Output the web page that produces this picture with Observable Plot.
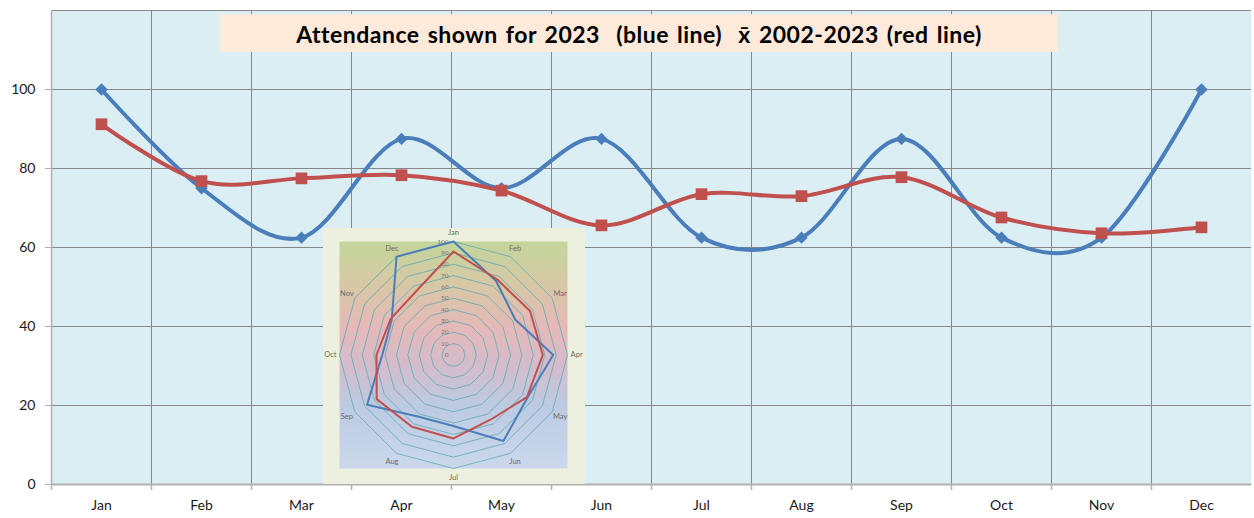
<!DOCTYPE html>
<html>
<head>
<meta charset="utf-8">
<script src="https://cdn.jsdelivr.net/npm/d3@7"></script>
<script src="https://cdn.jsdelivr.net/npm/@observablehq/plot@0.6"></script>
<style>
  body { margin: 0; background: #ffffff; }
  #wrap { position: relative; width: 1254px; height: 518px; font-family: Lato, "Open Sans", sans-serif; }
  #title {
    position: absolute; left: 220px; top: 14px; width: 838px; height: 38px;
    background: #fdeada; display: flex; align-items: center; justify-content: center;
    font-family: Lato, "Open Sans", sans-serif; font-weight: bold; font-size: 23px; color: #000;
    letter-spacing: 0.5px; word-spacing: 2px; white-space: pre; padding-top: 2px; box-sizing: border-box;
  }
  #inset { position: absolute; left: 323px; top: 228px; width: 262px; height: 256px; }
</style>
</head>
<body>
<div id="wrap">
  <div id="chart"></div>
  <div id="title">Attendance shown for 2023  (blue line)  x̄ 2002-2023 (red line)</div>
  <div id="inset"></div>
</div>
<script>
// ---- data ----
const months = ["Jan", "Feb", "Mar", "Apr", "May", "Jun", "Jul", "Aug", "Sep", "Oct", "Nov", "Dec"];
const attendance2023 = [100, 75, 62.5, 87.5, 75, 87.5, 62.5, 62.5, 87.5, 62.5, 62.5, 100];
const average2002to2023 = [91.2, 76.8, 77.5, 78.3, 74.4, 65.6, 73.5, 73.0, 77.8, 67.6, 63.6, 65.1];
const yTicks = [0, 20, 40, 60, 80, 100];
const yGrid = [20, 40, 60, 80, 100, 120];
const radarRings = [0, 10, 20, 30, 40, 50, 60, 70, 80, 90, 100];

const blueColor = "#4a7ebb";
const redColor = "#c0504d";
const fontFamily = 'Lato, "Open Sans", sans-serif';

// ---- main chart ----
const rows = months.map((m, i) => ({ idx: i + 1, month: m, blue: attendance2023[i], red: average2002to2023[i] }));
const centers = rows.map(d => d.idx);
const boundaries = d3.range(0, months.length + 1).map(k => k + 0.5);

const main = Plot.plot({
  width: 1254,
  height: 518,
  marginLeft: 51,
  marginRight: 3,
  marginTop: 10,
  marginBottom: 34,
  style: { fontFamily, fontSize: "14px", background: "transparent", overflow: "visible" },
  x: { domain: [0.5, months.length + 0.5], label: null },
  y: { domain: [0, 120], label: null },
  marks: [
    Plot.frame({ fill: "#dbeef4", stroke: null }),
    Plot.ruleY(yGrid, { stroke: "#878787", strokeWidth: 1 }),
    Plot.ruleX(boundaries.slice(1, -1), { stroke: "#878787", strokeWidth: 1 }),
    Plot.ruleX(boundaries.slice(0, 1), { stroke: "#b0b0b0", strokeWidth: 1.5 }),
    Plot.ruleY([0], { stroke: "#b0b0b0", strokeWidth: 2 }),
    Plot.axisX(boundaries.slice(0, -1), { tickSize: 6, tickFormat: () => "", stroke: "#b0b0b0", strokeWidth: 1.5, label: null }),
    Plot.axisX(centers, { tickSize: 0, tickPadding: 16, tickFormat: i => months[i - 1], fill: "#1a1a1a", label: null }),
    Plot.axisY(yTicks, { tickSize: 6, tickPadding: 10, stroke: "#b0b0b0", fill: "#1a1a1a", label: null }),
    Plot.line(rows, { x: "idx", y: "blue", stroke: blueColor, strokeWidth: 4, curve: "cardinal" }),
    Plot.dot(rows, { x: "idx", y: "blue", symbol: "diamond2", r: 5.6, fill: blueColor, stroke: null }),
    Plot.line(rows, { x: "idx", y: "red", stroke: redColor, strokeWidth: 4, curve: "cardinal" }),
    Plot.dot(rows, { x: "idx", y: "red", symbol: "square", r: 6.6, fill: redColor, stroke: null })
  ]
});
document.getElementById("chart").appendChild(main);

// ---- inset radar chart ----
const rMax = d3.max(radarRings);
const angle = k => (k * 2 * Math.PI) / months.length;
const ringPts = radarRings.filter(r => r > 0).flatMap(r =>
  d3.range(months.length + 1).map(k => ({ ring: r, x: r * Math.sin(angle(k)), y: r * Math.cos(angle(k)) }))
);
const polygon = (vals, name) =>
  d3.range(months.length + 1).map(k => {
    const v = vals[k % months.length];
    return { s: name, x: v * Math.sin(angle(k)), y: v * Math.cos(angle(k)) };
  });
const labelR = rMax * 1.08;
const monthLabels = months.map((m, k) => ({ m, x: labelR * Math.sin(angle(k)), y: labelR * Math.cos(angle(k)) }));
const ringLabels = radarRings.map(r => ({ r, x: 0, y: r }));

const inset = Plot.plot({
  width: 262,
  height: 256,
  marginLeft: 16,
  marginRight: 18,
  marginTop: 13,
  marginBottom: 16,
  style: { fontFamily, background: "#edf0df", overflow: "visible" },
  x: { domain: [-rMax, rMax], axis: null },
  y: { domain: [-rMax, rMax], axis: null },
  marks: [
    Plot.frame({ fill: "url(#radarGrad)", stroke: null }),
    Plot.line(ringPts, { x: "x", y: "y", z: "ring", stroke: "#62aab6", strokeWidth: 0.9, strokeOpacity: 0.9 }),
    Plot.text(ringLabels, { x: "x", y: "y", text: "r", textAnchor: "end", dx: -5, fontSize: 6.5, fill: "#7a7a7a" }),
    Plot.text(monthLabels, { x: "x", y: "y", text: "m", fontSize: 7.5, fill: "#6a6a6a" }),
    Plot.line(polygon(attendance2023, "blue"), { x: "x", y: "y", stroke: blueColor, strokeWidth: 2 }),
    Plot.line(polygon(average2002to2023, "red"), { x: "x", y: "y", stroke: redColor, strokeWidth: 2 })
  ]
});
const defs = d3.select(inset).insert("defs", ":first-child");
const grad = defs.append("linearGradient").attr("id", "radarGrad")
  .attr("x1", 0).attr("y1", 0).attr("x2", 0).attr("y2", 1);
[[0, "#c3d69b"], [0.2, "#d8c7a6"], [0.38, "#e5b9b8"], [0.55, "#d3bccc"], [0.72, "#bccbe2"], [1, "#cbd8ec"]]
  .forEach(([o, c]) => grad.append("stop").attr("offset", o).attr("stop-color", c));
document.getElementById("inset").appendChild(inset);
</script>
</body>
</html>
